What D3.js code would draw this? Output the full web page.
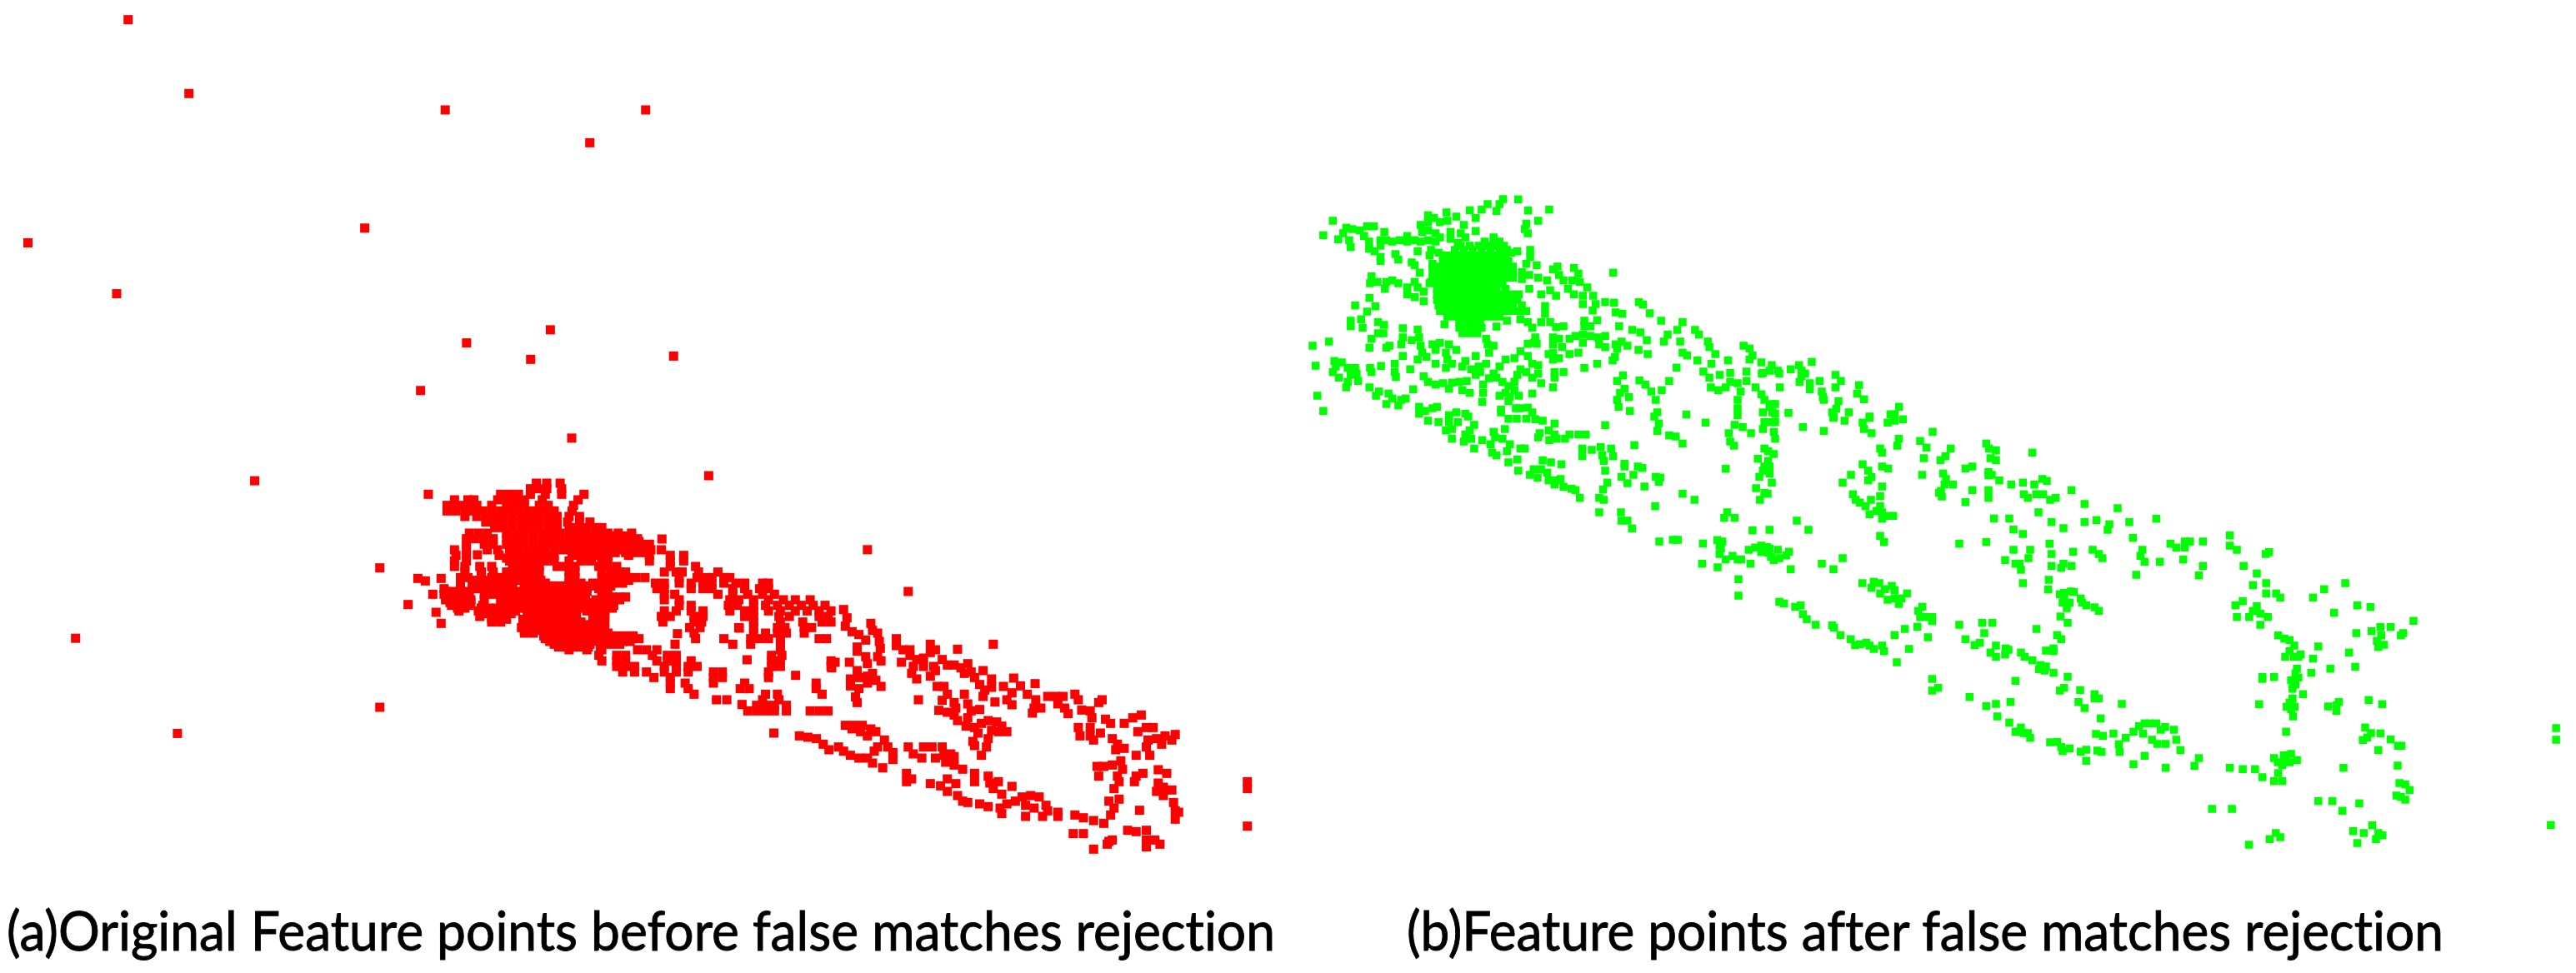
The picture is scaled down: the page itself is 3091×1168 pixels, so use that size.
<!DOCTYPE html>
<html><head><meta charset="utf-8">
<script src="https://cdn.jsdelivr.net/npm/d3@7/dist/d3.min.js"></script>
<style>html,body{margin:0;padding:0;background:#fff;overflow:hidden}svg{display:block}</style>
</head><body><svg id="c" width="3091" height="1168"></svg>
<script>
// Each row: first the row value, then the values along it.
const redDenseRows = [
[60,570,605,650],[80,550,575,605,655],[100,450,480,510,550,600,655,730],
[120,295,340,360,440,470,500,530,590,710],[140,270,295,320,345,370,420,470,500,530,580,610,695],
[160,270,300,330,360,390,420,450,480,510,540,570,600,630,690],
[180,330,370,400,430,460,490,520,550,580,610,640,680,715],
[200,400,430,460,490,520,550,580,610,640,675,715,750],
[220,430,460,490,520,550,580,610,640,680,710,740,770,790],
[240,345,375,405,470,500,530,560,590,620,650,680,710,780,810,845,890],
[260,335,365,395,425,470,500,530,560,590,620,650,700,730,760,790,820,850,880,910],
[280,335,395,425,470,500,530,560,590,620,650,680,710,740,770,800,830,860,890,920,950],
[300,295,335,405,440,480,510,540,570,600,630,660,690,720,750,780,810,840,870,900,930,955,990],
[320,300,335,445,480,510,540,570,600,630,690,720,750,780,810,880,950,1020,1065],
[340,295,335,480,510,540,570,600,630,680,720,750,790,950,1020,1065],
[360,295,330,380,420,490,520,550,580,640,670,700,780,810,840,1020,1105],
[380,330,385,425,470,500,520,550,580,680,700,790,820,850,870,1000,1040,1060,1115,1180],
[400,315,340,385,420,450,490,530,570,680,700,790,820,850,880,905,935,1050,1110,1140,1160,1200,1220],
[420,315,360,390,430,460,490,530,560,600,680,720,760,800,830,860,970,1000,1050,1090,1130,1160,1200,1240,1270,1330,1350],
[440,260,355,385,420,460,490,530,560,590,620,650,670,710,740,780,810,975,1000,1090,1130,1160,1230,1270,1320,1350],
[460,260,290,320,345,395,425,520,550,580,610,640,670,700,730,790,1000,1035,1180,1230,1280,1330,1370],
[480,265,295,325,350,395,450,480,510,540,560,610,670,700,730,770,810,850,1000,1050,1220,1250,1300,1350,1400,1440,1490],
[500,285,315,345,390,455,490,520,550,580,610,640,680,720,760,800,830,1050,1090,1215,1245,1300,1340,1380,1420,1460,1500,1540],
[520,310,375,410,470,500,540,570,600,650,700,740,770,800,1000,1040,1090,1130,1220,1270,1300,1350,1390,1440,1480,1520,1560],
[540,380,420,460,540,610,640,700,760,800,990,1020,1100,1130,1270,1300,1385,1420,1520,1550],
[560,420,450,530,570,610,660,690,720,770,800,995,1100,1125,1300,1390,1465,1530,1560],
[580,520,550,590,620,650,680,710,740,770,1085,1120,1250,1300,1380,1405,1470,1495],
[600,530,560,600,630,660,710,760,810,1100,1300,1340,1380,1410,1470],
[620,600,630,660,690,720,750,800,830,860,890,915,1105,1200,1290,1320,1350,1390,1520,1545],
[640,630,660,690,720,750,790,820,850,1230,1290,1390],
[660,680,740,790,910,940,975,1390],[680,780,840,870,960,1010,1040,1360,1395],
[700,790,840,870,975,1010,1040,1090,1360,1390,1560],[720,840,870,900,1000,1040,1080,1110,1360,1390,1560],
[740,860,900,940,1000,1040,1080,1165,1195,1350],[760,965,1020,1165,1195,1350],
[780,1020,1070,1165,1270,1510],[800,1020,1080,1255,1285,1510],[820,1100,1340,1380,1530],
[840,1175,1210,1330,1385],[860,1310,1340,1370,1410],[880,1280,1310,1340,1370,1410,1490,1520,1550]
];
const redInfillRows = [
[410,355,380,405,430,455,480,505,530,555,585,690,805,830,855,880],
[430,355,380,405,430,455,480,530,555,580,605,630,655,680,720,745,770,795,820],
[450,265,290,315,340,440,465,490,515,540,565,590,615,640,665,690,715,740],
[470,265,290,315,340,460,485,510,535,560,585,610,635,660,685,710,735,800,825,850,870],
[490,280,305,330,350,460,485,510,535,560,585,610,635,660,685,710,735,760,785,810],
[510,305,330,385,410,435,460,485,510,535,560,585,610,650,675,725,750,775,800,825],
[530,385,410,435,460,485,555,585,615,645,675,705,775,800],
[550,420,445,470,525,550,575,600,625,650,675,700,770,795],
[570,530,555,580,605,630,655,680,705,730,755,780],
[590,530,555,580,605,630,655,680,700,725,750,775,800],
[610,595,620,645,670,695,720,745,770,795,820,845,870,895],
[630,615,640,665,690,715,740,755,785,810,835,860,885],
[650,645,670,695,720,745,785],
[250,700,735,760,790,815,840,865,890],
[270,675,705,735,765,795,825,855,885,915],
[310,715,745,775,805,835,870,900,930],
[330,470,495,520,545,570,595,625,725,755,790,810]
];
const redSingles = [[207,100],[1149,33],[44,365],[44,867],[992,261],[139,497],[233,525],[250,565],[222,460],[250,403],[372,318],[1278,696],[1441,752],[1252,582],[1044,602],[1036,640],[1261,857],[172,403],[197,412]];
const redRight = [[145,610],[170,615],[195,620],[215,640],[232,660],[70,600],
[275,155],[285,185],[280,215],[300,235],[320,245],[340,265],[355,205],[360,230],[375,240],[315,290],[315,305],[380,270],[383,295],[340,325],[375,325],[385,340],[345,350],[250,345],[240,365],[292,345],[315,375],[295,405],[320,400],[345,395],[360,385],[370,410],[385,432],[295,430],[320,440],[345,420],[310,470],[315,490],
[430,260],[430,285],[450,300],[470,300],[470,320],[490,335],[510,330],[530,280],[530,310],[545,300],[565,335],[580,355],[445,345],[480,360],[510,360],[540,360],[475,385],[490,405],[530,395],[545,375],[610,298],[715,280],[465,90],
[600,355],[620,365],[640,350],[650,380],[630,385],[685,375],[660,400],[675,425],[710,405],[710,435],[690,445],[745,432],[775,402],[795,430],[770,455],[838,422],[815,460],[840,480],[835,510],[830,528],[855,510],
[875,468],[900,468],[920,468],[905,495],[925,510],[935,530],[955,460],[965,480],[1025,490],[1035,480],
[550,432],[570,432],[580,460],[565,482],[495,480],[630,460],[685,468],[720,488],[755,480],[770,498],
[600,490],[605,510],[640,495],[650,520],[675,515],[555,518],[580,525],[600,535],[610,555],[640,545],[635,575],[660,580],[680,565],[700,555],[725,560],[740,575],[755,595],[730,595],[710,590],[670,600],[700,620],[655,630],[660,645],[695,650],[680,680],
[280,572],[305,572],[330,572],[355,585],[300,585],[325,595],[345,610],[370,595],[395,625],[375,650],[405,650],[420,670],[420,695],[365,665],
[260,650],[275,665],[295,680],[320,690],[345,690],[360,708],[390,725],
[465,650],[480,675],[510,650],[535,650],[505,690],[565,650],[545,690],[570,680],[590,675],[600,685],[575,705],[600,715],[625,730],[660,745],[660,775],[700,755],[705,780],[730,775],[715,800],[770,792],
[460,745],[460,775],[475,765],[530,782],[560,790],[580,765],[605,782],[580,810],[610,825],[625,845],[640,850],
[675,855],[700,865],[735,870],[740,890],[755,855],[780,845],[740,820],[800,830],[825,825],[850,830],[870,860],[810,860],[835,870],[810,900],[875,880],[860,900],[905,885],[905,900],[955,895],[980,905],[1010,915],[1040,925],[1060,895],[1070,870],[1055,845],[1085,838],
[1145,878],[1000,520],[975,517],[1005,545],[1045,550],[1060,565],[1100,565],[1125,545],[1150,535],[1000,580],[1030,600],[965,580],[970,610],[1000,610],[1010,625],
[1065,620],[1080,640],[1075,660],[1100,655],[1135,680],[1175,680],[1020,720],[1040,720],[1025,755],[1065,715],[1090,700],[1095,730],[1080,755],[1085,775],[1070,800],[1135,755],[1155,745],[1130,775],
[1140,595],[1165,580],[1185,580],[1170,625],[1195,620],[1220,610],[1250,605],[1210,640],[1240,625],[1165,650],
[1200,732],[1225,745],[1200,780],[1215,795],[1240,805],[1195,810],[1215,825],[1245,850],[1250,880],[1260,885],[1250,910],
[1110,950],[1135,955],[1165,950],[1165,985],[1190,985],[1205,1000],[1165,1010],[1055,990],[1065,985],[1050,1000],
[950,962],[980,962],[1010,1018],[1462,775],[1462,800],[1462,935]];
const redOutliers = [[78,12],[115,57],[271,67],[393,67],[359,87],[222,139],[17,148],[71,179],[284,209],[335,201],[323,219],[410,217],[256,238],[348,267],[155,293],[528,335],[46,389],[108,447]];

const greenCoreRows = [
[195,650],[210,620,650,670],[225,540,570,600,630,660,685],[240,520,550,580,610,640,670,695],
[260,490,515,540,565,590,615,640,665,690],[280,480,505,530,555,580,605,630,655,680,700],
[300,445,470,495,520,545,570,595,620,645,670,695,715],[320,445,470,495,520,545,570,595,620,645,670,695,715],
[340,445,470,495,520,545,570,595,620,645,670,695,715],[360,435,460,485,510,535,560,585,610,635,660,680],
[380,460,485,510,535,560,585,610,635,660,690],[400,460,485,510,535,560,585,610,635,660,685,710,735],
[420,460,485,510,535,560,585,610,635,660,685,710,730],[440,465,490,515,540,565,590,615,640,665,690,715,745],
[460,470,495,520,545,570,595,620,645,670,695,720,745],[480,495,520,545,570,595,620,645,670],
[500,535,560,585,605],[520,535,560,585,610],[540,545,570,595]
];
const greenLeft = [[110,135],[78,187],[128,202],[155,160],[175,165],[145,180],[165,205],[170,230],[200,170],[215,190],[232,210],[232,235],[225,155],[248,155],[250,245],[270,265],[270,280],[283,175],[270,205],[270,225],[290,205],[310,210],[335,205],[360,190],[360,210],[385,205],[405,210],[430,205],[455,210],[405,150],[410,175],[430,115],[430,140],[450,125],[470,140],[495,135],[525,120],[550,150],[492,105],[570,97],[590,125],[590,172],[610,95],[630,75],[660,100],[670,75],[682,57],[733,58],[766,98],[837,95],[800,135],[760,145],[755,165],[765,180],
[430,170],[455,180],[470,195],[505,175],[505,200],[540,180],[555,195],[530,215],[395,245],[320,255],[330,275],[375,285],[385,295],[402,322],[435,260],[440,240],[465,250],[480,265],[445,290],[460,315],
[240,335],[235,360],[260,355],[290,355],[285,380],[310,350],[330,360],[360,375],[385,355],[395,375],[360,400],[385,410],[415,425],[415,390],[440,355],[233,413],[253,443],[185,440],[225,462],[170,495],[170,515],[205,490],[210,520],[262,500],[282,510],[262,540],[280,540],[240,560],[233,592],[345,522],[395,527],
[290,592],[300,585],[345,555],[340,580],[375,565],[400,555],[405,585],[410,610],[395,635],[425,625],[455,650],[445,580],[470,575],[500,580],[455,600],[490,610],[525,600],[495,635],[490,665],[510,650],[345,622],[590,622],[485,508],[660,516],
[555,640],[545,660],[575,670],[600,660],[625,650],[590,690],[605,680],
[630,580],[650,585],[625,560],[635,610],[730,245],[710,250],[773,240],[773,265],[760,290],[795,295],[745,320],[770,330],[745,345],[800,340],[830,350],[850,310],[865,300],[870,330],[920,305],[935,325],[885,350],[915,350],[940,355],[965,375],[770,380],[690,380],[810,400],[840,385],[860,405],[900,380],[920,400],[950,405],[985,405],[1052,322],[1025,428],[1055,430],[950,435],[993,435],[983,458],[823,442],[823,470],[760,460],[740,490],[765,500],[780,520],[810,500],[840,500],[860,518],[885,515],[695,495],
[955,495],[955,515],[975,515],[998,493],[1072,515],[1060,465],[1082,470],[1138,428],[1152,437],[1175,468],[1213,495],[1285,500],[1116,528],[1143,537],[1165,565],[1235,545],[1222,570],[1267,528],[1327,528],[1340,545],[1277,570],[1370,570],[1375,590],[1395,615],[1285,610],[1300,620],[1335,638],[1382,650],[1438,638],[1265,664],[1355,678],[1375,700],[1410,690],[1445,683],[1500,678],[1555,683],[1240,712],[1490,585],[1510,595],[1520,620],[1510,635],[1550,645],[1500,712],
[850,555],[870,560],[850,580],[880,590],[850,610],[835,615],[850,635],[870,630],[905,560],[925,550],[950,545],[975,550],[1000,555],[1025,550],[950,575],[1005,580],[1025,590],[905,615],[935,610],[1060,580],[1080,570],[1065,595],[1100,585],[1137,600],[1168,615],[1058,625],[1050,638],[998,650],[955,665],[790,555],[785,575],[765,578],[795,578],
[740,605],[765,622],[720,630],[690,635],[670,660],[650,685],[635,702],[660,700],[680,715],[700,730],[720,745],[735,765],[690,755],[705,770],[670,765],[700,785],[725,810],[740,810],[765,808],[780,825],[700,848],[728,848],[760,848],[790,850],[815,855],[780,757],[810,720],[800,685],[780,650],[800,655],[740,670],[760,680],[730,690],[720,715],[780,700],[855,680],[855,700],[885,680],[850,735],
[415,695],[430,715],[455,725],[480,720],[510,718],[535,715],[560,712],[500,740],[545,745],[570,755],[615,725],[615,755],[612,787],
[115,640],[140,645],[120,660],[110,680],[130,700],[160,665],[185,665],[170,690],[190,685],[160,715],[195,712],[155,735],[235,665],[240,680],[272,658],[318,650],[318,680],[322,698],[370,670],[52,657],[42,585],[97,570],[58,765],[78,820],[233,735],[265,750],[255,765],[297,757],[310,775],[340,780],[355,775],[290,795],[330,800],[380,742],
[400,805],[400,830],[420,820],[445,810],[430,855],[465,860],[460,805],[500,835],[500,860],[525,825],[555,830],[530,860],[565,840],[490,890],[510,885],[585,870],[570,890],[510,920],[555,905],[575,920],[550,930],[585,955],[612,925],[640,940],[650,895],[655,915],[688,885],[680,920],[705,940],[695,965],[645,970],[660,980],[755,955],[740,955],[730,995],[700,1005],[733,1035],[815,998],[843,1005],[878,1012],
[675,815],[675,825],[805,900],[800,915],[835,890],[855,905],[837,925],[862,920],[855,865],[890,920],[905,905],[935,905],[960,905],[948,955],[948,983],[980,960],[1010,950],[1045,955],[1015,980],[1020,1000],[1052,983],[1123,943],[1025,871],
[1085,692],[1065,712],[1090,740],[1075,755],[1105,770],[1065,780],[1070,805],[1108,820],[1140,710],[1160,725],[1180,750],[1195,780],[1215,745],[1200,825],[1190,840],[1205,865],[1200,892],[1240,908],[1262,912],[1285,937],[1298,833],[1362,862],
[1380,735],[1405,745],[1430,735],[1445,715],[1470,720],[1480,750],[1470,780],[1470,810],[1470,835],[1460,870],[1440,900],[1445,930],[1458,945],[1487,878],[1515,900],[1530,735],[1550,760],[1560,780],[1555,825],[1560,860],[1555,885],[1560,955],[1538,992],[1560,1020],[1555,1035],[1543,1057],[1532,1098],[1560,1115],[1545,1140],
[1430,1028],[1090,1010],[1090,1020],[1135,1020],[1120,1050],[1150,1025],[1080,1057],[1100,1080],[1157,1092],[1195,1057],[1210,1060],[1205,1075],[1025,1035],[1032,1078],[1018,1103],[1005,1133],[1020,1140],[940,1133],[785,1030],[810,1030],[830,1042],[798,1060],[772,1050],[835,1070],[860,1070],[875,1065],[855,1085],[885,1093],[912,1100],[925,1105],[1285,1118],[1325,1140],[1193,1163],[1005,1185],[1078,1185],[1080,1215],[1100,1215],[1115,1243],[1435,1185],[1425,1205],[1460,1205],[1520,1250]];
const greenLow = [[273,90],[322,84],[340,84],[430,97],[482,85],[500,90],[490,105],[495,115],[490,135],[512,155],[537,142],[555,155],[568,155],[427,170],[483,183],[558,226],[558,285],[601,170],[595,120],[618,112],[640,105],[650,120],[640,128]];
const greenUpper = [[78,205],[70,225],[42,235],[100,225],[105,235],[146,220],[176,205],[185,225],[198,235],[222,193],[185,245],[178,265],[215,270],[215,292],[250,262],[307,240],[327,262],[307,285],[392,277],[385,307],[410,328],[258,300],[262,320],[265,330],[318,335],[107,285],[138,377],[80,345],[90,345],[80,375],[90,380],[70,355],[310,362],[295,375],[300,392],[355,375],[430,390],[536,355],[505,382],[520,382]];
const greenMiddle = [[70,20],[90,20],[85,55],[90,80],[190,38],[265,52],[340,15],[300,5],[405,22],[410,45],[437,60],[430,5],[495,22],[520,15],[550,10],[535,80],[530,105],[612,88],[635,112],[657,55],[722,115],[850,97],[860,115],[885,122],[1016,130],[468,115],[475,130],[65,125],[85,135],[625,150],[685,157],[703,143],[865,150],[885,157],[405,172],[475,180],[497,187],[425,195],[65,160],[70,180],[70,205],[78,238],[63,278],[363,210],[437,218],[425,230],[333,238],[619,210],[695,205],[705,225],[700,245],[730,245],[775,187],[800,180],[858,200],[870,210],[858,212],[897,230],[940,245],[982,238],[1023,245],[1052,225],[1068,232],[1157,265],[475,252],[687,268],[680,275],[690,288],[800,265],[858,265],[858,293],[775,308],[985,280],[1000,293],[1030,280],[1055,280],[1080,300],[1100,293],[1204,315],[1323,330],[1038,345],
[370,280],[380,300],[395,310],[415,323],[435,300],[468,287],[468,323],[430,352],[455,340],[475,345],[475,368],[500,358],[515,358],[878,367],[933,367],[1085,380],[1128,402],[1204,380],[1247,373],[1293,388],[1287,408],[1365,380],[1378,437],[948,407],[982,423],[168,375],[210,408],[70,408],[468,430],[482,452],[753,458],[850,452],[1078,458],[948,480],[1008,480],[1085,495],[1163,487],[1233,480],[1255,495],[1268,510],[1412,480],[1405,502],[1420,523],[1002,510],[918,517],[955,530],[970,530],[975,552],[1085,538],[1128,530],[1120,545],[1157,538],[1390,570],[1075,588],[982,600],[1073,623],
[60,470],[70,475],[65,490],[100,480],[140,487],[130,500],[105,510],[85,517],[75,505],[146,550],[258,530],[300,550],[333,510],
[404,600],[445,595],[437,617],[465,600],[468,637],[485,622],[510,610],[520,625],[495,660],[520,655],[545,655],[535,675],[565,637],
[105,667],[122,673],[162,685],[182,680],[190,712],[204,730],[236,750],[295,752],[302,760],[325,787],[362,802],[378,823],[395,820],[418,815],[430,825],[445,837],[475,825],[482,845],[520,787],[557,765],[572,837],[528,885],[602,757],[640,795],[655,722],[655,737],[620,685],[605,700],[612,722],[630,722],
[753,750],[835,743],[872,743],[843,780],[775,802],[808,823],[827,815],[885,825],[865,850],[885,865],[920,835],[930,840],[918,857],[975,850],[988,865],[1016,878],[1045,895],[1040,910],[1065,900],[1060,915],[1092,923],[1143,937],[955,952],[1031,765],[1105,787],[1120,802],[1065,843],[1092,835],[1092,845],[1117,720],[1143,743],
[1115,640],[1130,650],[1155,630],[1165,632],[1125,670],[1140,690],[1150,670],[1190,655],[1195,670],[1210,680],[1240,687],[1255,700],[1130,635],
[655,945],[655,987],[677,977],[790,1010],[850,1043],[885,1035],[937,1028],[890,1080],[933,1102],[955,1135],[975,1120],[985,1140],[1000,1140],[1008,1157],[1115,987],[1130,977],[1188,985],[1240,1000],[1255,1015],[1240,1015],[1182,1028],[1204,1050],[1338,1035],[1262,1087],[1245,1143],[1270,1150],[1308,1142],[1352,1157],[1327,1180],[1330,1208],[1380,1135],[1400,1115],[1415,1142],[1420,1105],[1440,1105],[1080,1173],[1105,1172],[1120,1190],[1125,1205],[1150,1195],[1190,1207],[1210,1200],[1210,1240],[1250,1203],[1265,1208],[1380,1252],[1420,1222],[965,1135]];
const greenRight = [[135,8],[386,68],[386,105],[410,120],[520,128],[508,135],[183,98],[203,112],[232,90],[250,90],[232,112],[294,90],[147,163],[227,155],[294,178],[280,212],[433,178],[478,205],[510,240],[465,247],[510,277],[544,277],[558,292],[670,292],[708,262],[780,240],[821,320],[866,326],[742,347],[430,305],[405,320],[478,323],[465,340],[490,350],[410,362],[452,362],[516,362],[490,390],[551,428],[572,440],[590,445],[606,465],[590,485],[688,468],[793,490],[670,512],[575,505],[605,505],[628,497],[620,505],[1013,376],[900,398],[935,398],[870,413],[818,420],[903,428],[978,420],[970,428],[888,448],[912,462],[893,470],
[615,548],[610,565],[605,590],[620,580],[595,590],[610,605],[600,620],[664,563],[729,548],[814,541],[497,578],[497,585],[537,578],[636,640],[600,655],[590,670],[580,685],[607,685],[595,695],[602,720],[486,676],[722,684],[750,700],[750,680],[758,668],[860,661],[906,676],
[578,775],[848,760],[868,780],[900,781],[855,796],[840,805],[935,803],[960,826],[972,826],[893,841],[959,897],[774,905],[537,870],[570,860],[595,855],[615,877],[575,880],[550,885],[590,885],[565,895],[551,924],[537,953],[565,953],[497,939],[472,910],[430,910],[386,905],[280,870],[265,898],[167,905],[195,768],[203,804],[217,841],[150,768],[165,758],[135,745],[120,804],[139,819],[167,819],
[965,960],[985,965],[1000,985],[955,1005],[970,1010],[985,1020],[688,1025],[736,1025],[828,1033],[770,1060],[872,1112],[807,1133],[843,1140],[893,1140],[907,1148],[885,1162],[821,1176],[1482,1111],[1500,762],[1500,804],[325,1053],[393,1053],[451,1182],[522,1162],[543,1140],[558,1155]];
const captions = ["(a)Original Feature points before false matches rejection","(b)Feature points after false matches rejection"];

const svg = d3.select("#c");
const rowsToPairs = rows => rows.flatMap(([y,...xs]) => xs.map(x => [x,y]));
// Each group of readings lives in the coordinate frame of its panel window.
const frame = (pts,dx,rx,dy,ry) => {
  const sx = d3.scaleLinear().domain(dx).range(rx), sy = d3.scaleLinear().domain(dy).range(ry);
  return pts.map(([x,y]) => [sx(x),sy(y)]);
};
const unit = (x0,y0,w,h,pw,ph) => [[0,pw],[x0,x0+w],[0,ph],[y0,y0+h]];
const redData = [
  ...frame(rowsToPairs(redDenseRows).concat(rowsToPairs(redInfillRows),redSingles),...unit(440,560,560,300,1568,900)),
  ...frame(redRight,...unit(900,680,640,370,1568,1110)),
  ...frame(redOutliers,...unit(0,0,3091,1168,1568,593))
];
const greenData = [
  ...frame(rowsToPairs(greenCoreRows).concat(greenLeft),...unit(1560,220,560,420,1568,1260)),
  ...frame(greenLow,...unit(1900,620,220,160,660,480)),
  ...frame(greenUpper,...unit(2100,370,300,140,900,420)),
  ...frame(greenMiddle,...unit(2100,500,480,480,1440,1440)),
  ...frame(greenRight,...unit(2540,620,551,420,1568,1260))
];
function dots(data,size,color){
  svg.append("g").selectAll("rect").data(data).join("rect")
    .attr("x",d=>d[0]-size/2).attr("y",d=>d[1]-size/2)
    .attr("width",size).attr("height",size).attr("fill",color);
}
dots(redData,11,"#ff0000");
dots(greenData,9.5,"#00ff00");
svg.selectAll("text.cap").data(captions).join("text").attr("class","cap")
  .attr("x",(d,i)=>[8,1688][i]).attr("y",1141)
  .attr("textLength",(d,i)=>[1522,1244][i]).attr("lengthAdjust","spacingAndGlyphs")
  .style("font-variant-ligatures","none")
  .attr("font-family","Lato,sans-serif").attr("font-size",65).attr("fill","#000")
  .attr("stroke","#000").attr("stroke-width",0.9).text(d=>d);
</script></body></html>
